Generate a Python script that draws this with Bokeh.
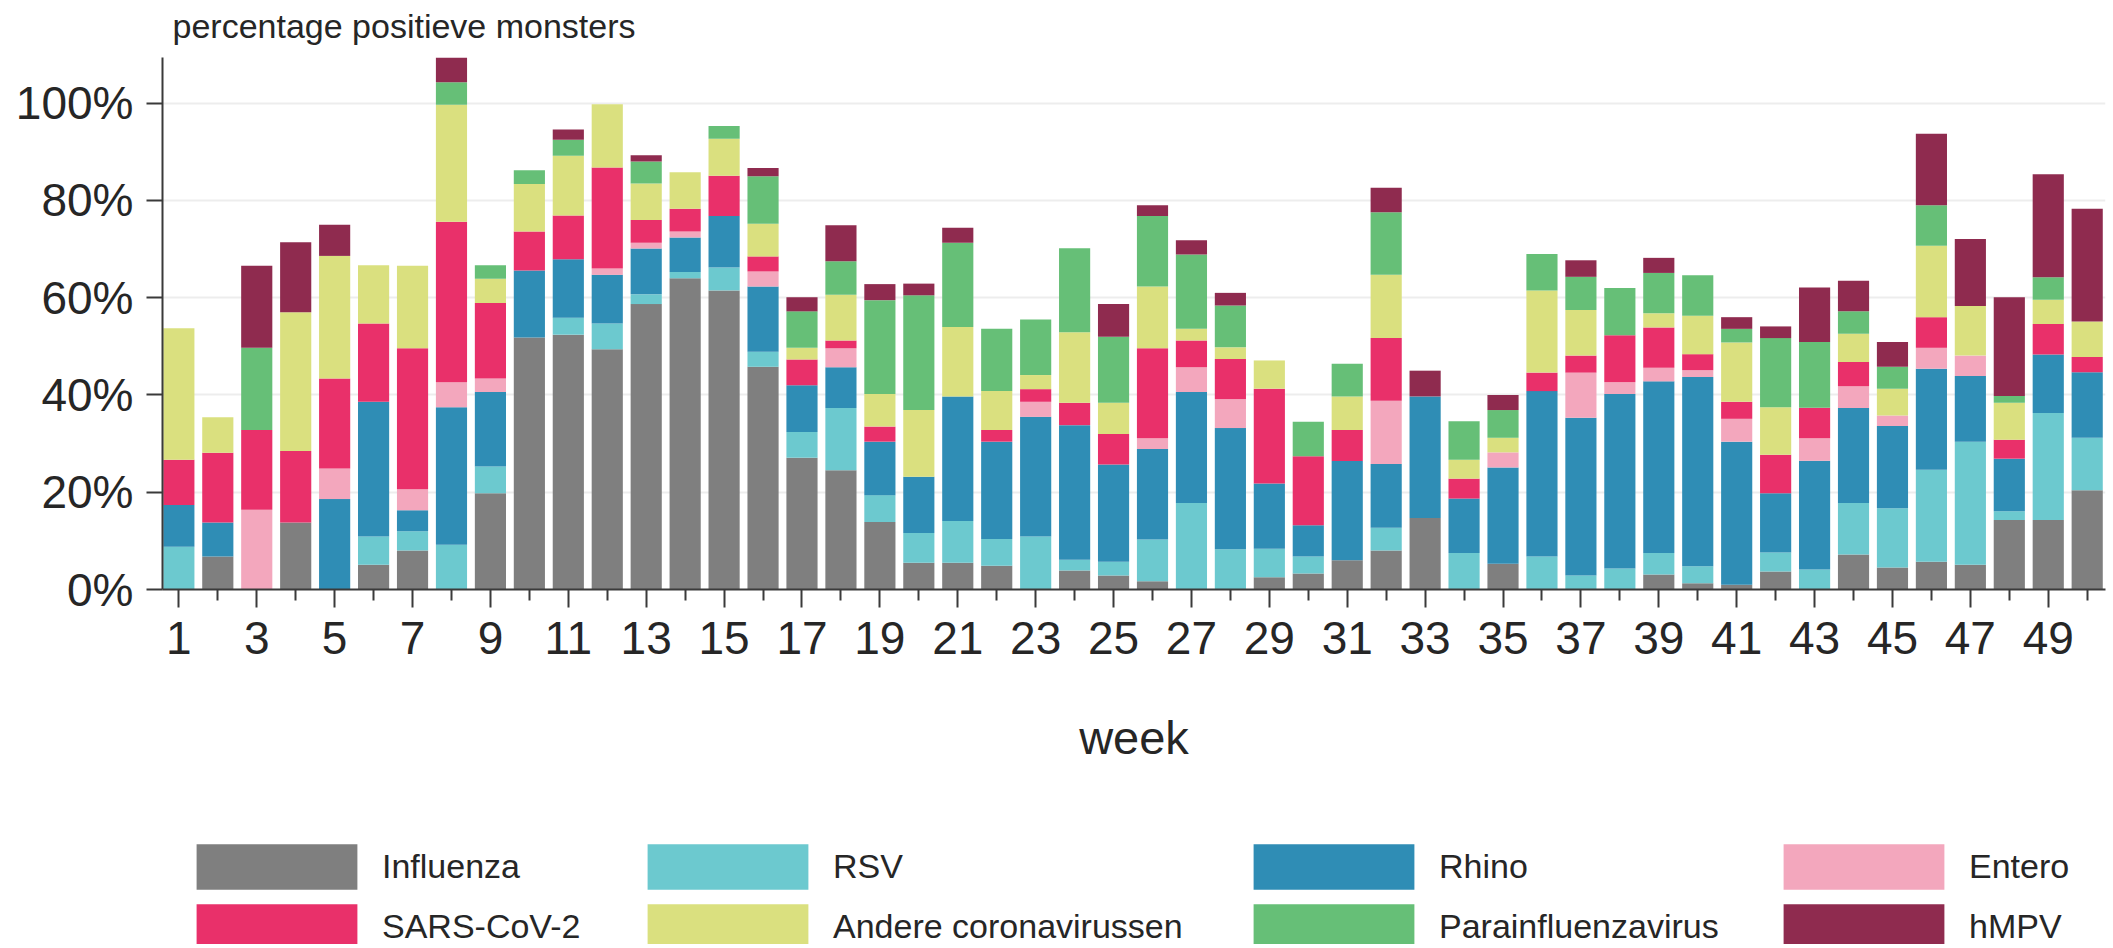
from bokeh.plotting import figure
from bokeh.models import (ColumnDataSource, Range1d, FixedTicker, PrintfTickFormatter,
                          Legend, LegendItem, Label)
from bokeh.layouts import column
from bokeh.embed import file_html
from bokeh.resources import INLINE

# ---------------- data ----------------
weeks = list(range(1, 51))
week_tick_labels = [str(w) for w in range(1, 50, 2)]

influenza = [0, 6.8, 0, 13.8, 0, 5.1, 8.0, 0, 19.8, 51.8,
             52.4, 49.4, 58.7, 64.0, 61.5, 45.8, 27.1, 24.5, 13.9, 5.5,
             5.5, 4.9, 0, 3.9, 2.9, 1.7, 0, 0, 2.5, 3.3,
             6.0, 8.0, 14.7, 0, 5.3, 0, 0, 0, 3.1, 1.3,
             1.0, 3.7, 0, 7.2, 4.5, 5.7, 5.1, 14.3, 14.3, 20.4]
rsv = [8.8, 0, 0, 0, 0, 5.8, 4.0, 9.2, 5.5, 0,
       3.5, 5.3, 2.0, 1.3, 4.7, 3.1, 5.3, 12.8, 5.5, 6.1,
       8.6, 5.5, 10.9, 2.2, 2.8, 8.6, 17.8, 8.3, 5.9, 3.5,
       0, 4.7, 0, 7.5, 0, 6.8, 2.9, 4.3, 4.4, 3.5,
       0, 3.9, 4.1, 10.6, 12.2, 18.9, 25.3, 1.8, 22.0, 10.8]
rhino = [8.6, 7.0, 0, 0, 18.6, 27.7, 4.3, 28.3, 15.3, 13.8,
         12.0, 10.0, 9.4, 7.1, 10.6, 13.4, 9.6, 8.4, 11.0, 11.6,
         25.6, 20.0, 24.6, 27.7, 20.0, 18.6, 22.8, 24.9, 13.4, 6.4,
         20.4, 13.1, 25.0, 11.2, 19.8, 34.0, 32.4, 35.9, 35.3, 38.9,
         29.4, 12.2, 22.4, 19.5, 16.9, 20.8, 13.5, 10.8, 12.0, 13.5]
entero = [0, 0, 16.4, 0, 6.3, 0, 4.3, 5.1, 2.8, 0,
          0, 1.3, 1.2, 1.2, 0, 3.1, 0, 3.9, 0, 0,
          0, 0, 3.1, 0, 0, 2.2, 5.1, 5.9, 0, 0,
          0, 13.0, 0, 0, 3.1, 0, 9.3, 2.4, 2.8, 1.4,
          4.7, 0, 4.6, 4.5, 2.2, 4.3, 4.2, 0, 0, 0]
sars_cov_2 = [9.3, 14.3, 16.4, 14.7, 18.5, 16.1, 29.0, 33.0, 15.5, 8.0,
              9.0, 20.8, 4.7, 4.7, 8.3, 3.1, 5.3, 1.6, 3.1, 0,
              0, 2.4, 2.6, 4.6, 6.3, 18.5, 5.5, 8.3, 19.5, 14.2,
              6.4, 12.9, 0, 4.1, 0, 3.8, 3.5, 9.7, 8.3, 3.3,
              3.5, 7.9, 6.3, 5.0, 0, 6.3, 0, 3.9, 6.3, 3.1]
andere_corona = [27.0, 7.3, 0, 28.5, 25.2, 12.0, 17.0, 24.1, 5.0, 9.8,
                 12.3, 13.0, 7.5, 7.5, 7.6, 6.7, 2.4, 9.4, 6.7, 13.7,
                 14.3, 8.0, 2.9, 14.5, 6.4, 12.7, 2.4, 2.4, 5.8, 0,
                 6.9, 13.0, 0, 3.9, 3.0, 16.9, 9.4, 0, 2.9, 7.9,
                 12.2, 9.8, 0, 5.8, 5.5, 14.7, 10.2, 7.6, 5.0, 7.3]
parainfluenza = [0, 0, 16.9, 0, 0, 0, 0, 4.6, 2.8, 2.8,
                 3.3, 0, 4.5, 0, 2.6, 9.8, 7.5, 6.9, 19.3, 23.6,
                 17.3, 12.8, 11.4, 17.3, 13.6, 14.5, 15.3, 8.6, 0, 7.1,
                 6.7, 12.9, 0, 7.9, 5.7, 7.5, 6.8, 9.7, 8.3, 8.3,
                 2.8, 14.2, 13.5, 4.6, 4.5, 8.3, 0, 1.4, 4.6, 0]
hmpv = [0, 0, 16.9, 14.4, 6.4, 0, 0, 6.0, 0, 0,
        2.1, 0, 1.3, 0, 0, 1.7, 2.9, 7.4, 3.3, 2.4,
        3.1, 0, 0, 0, 6.7, 2.2, 2.9, 2.6, 0, 0,
        0, 5.0, 5.3, 0, 3.1, 0, 3.4, 0, 3.1, 0,
        2.4, 2.4, 11.2, 6.3, 5.1, 14.7, 13.8, 20.3, 21.2, 23.2]

series_keys = ["influenza", "rsv", "rhino", "entero", "sars", "andere", "para", "hmpv"]
series_labels = ["Influenza", "RSV", "Rhino", "Entero", "SARS-CoV-2",
                 "Andere coronavirussen", "Parainfluenzavirus", "hMPV"]
series_colors = ["#7f7f7f", "#6cc9cf", "#2f8db5", "#f3a7bd", "#e9306a",
                 "#dae07f", "#66bf77", "#8f2b4f"]
y_ticks = [0, 20, 40, 60, 80, 100]
title_text = "percentage positieve monsters"

source = ColumnDataSource(dict(
    week=weeks, influenza=influenza, rsv=rsv, rhino=rhino, entero=entero,
    sars=sars_cov_2, andere=andere_corona, para=parainfluenza, hmpv=hmpv))

FONT = "Liberation Sans"
TXT = "#262626"
AX = "#3a3a3a"
W = 2108


def strip(height):
    f = figure(width=W, height=height, output_backend="svg", toolbar_location=None,
               x_range=Range1d(0, 1), y_range=Range1d(0, 1),
               x_axis_type=None, y_axis_type=None, min_border=0)
    f.outline_line_color = None
    f.grid.visible = False
    return f


# ---------------- title strip ----------------
title_fig = strip(57)
title_fig.add_layout(Label(x=10, y=32, x_units="screen", y_units="screen",
                           text=title_text, text_font=FONT, text_font_size="34px",
                           text_color=TXT, text_baseline="alphabetic",
                           text_align="left"))

# ---------------- main chart ----------------
p = figure(width=W, height=743, output_backend="svg", toolbar_location=None,
           x_range=Range1d(0.58, 50.47), y_range=Range1d(0, 109.4),
           min_border_left=162, min_border_right=3, min_border_top=0,
           min_border_bottom=211)
p.outline_line_color = None
p.background_fill_color = "white"

renderers = p.vbar_stack(series_keys, x="week", width=0.8, source=source,
                         color=series_colors, line_color=None)

p.xaxis.ticker = FixedTicker(ticks=[int(t) for t in week_tick_labels],
                             minor_ticks=list(range(2, 51, 2)))
p.xaxis.axis_label = "week"
p.xaxis.axis_label_text_font = FONT
p.xaxis.axis_label_text_font_size = "47px"
p.xaxis.axis_label_text_font_style = "normal"
p.xaxis.axis_label_text_color = TXT
p.xaxis.axis_label_standoff = 54
p.xaxis.major_label_text_font = FONT
p.xaxis.major_label_text_font_size = "46px"
p.xaxis.major_label_text_color = TXT
p.xaxis.major_label_standoff = 14
p.xaxis.major_tick_out = 18
p.xaxis.major_tick_in = 0
p.xaxis.minor_tick_out = 11
p.xaxis.minor_tick_in = 0
p.xaxis.major_tick_line_width = 2
p.xaxis.minor_tick_line_width = 2
p.xaxis.major_tick_line_color = AX
p.xaxis.minor_tick_line_color = AX
p.xaxis.axis_line_color = AX
p.xaxis.axis_line_width = 2

p.yaxis.ticker = FixedTicker(ticks=y_ticks)
p.yaxis.formatter = PrintfTickFormatter(format="%d%%")
p.yaxis.major_label_text_font = FONT
p.yaxis.major_label_text_font_size = "46px"
p.yaxis.major_label_text_color = TXT
p.yaxis.major_label_standoff = 13
p.yaxis.major_tick_out = 16
p.yaxis.major_tick_in = 0
p.yaxis.minor_tick_line_color = None
p.yaxis.major_tick_line_width = 2
p.yaxis.major_tick_line_color = AX
p.yaxis.axis_line_color = AX
p.yaxis.axis_line_width = 2

p.xgrid.visible = False
p.ygrid.ticker = FixedTicker(ticks=y_ticks)
p.ygrid.grid_line_color = "#ededed"
p.ygrid.grid_line_width = 2

# ---------------- legend strip ----------------
leg_fig = strip(144)
# zero-height sample per series: it only carries the colour for the legend swatch
swatches = [leg_fig.vbar(x=[0.5], top=[0], width=0.1, fill_color=c, line_color=None)
            for c in series_colors]

columns = [[0, 4], [1, 5], [2, 6], [3, 7]]
col_x = [14, 465, 1071, 1601]
for cx, idxs in zip(col_x, columns):
    items = [LegendItem(label=series_labels[i], renderers=[swatches[i]]) for i in idxs]
    leg = Legend(items=items, location=(cx, -11), orientation="vertical",
                 glyph_width=201, glyph_height=57, label_standoff=5, spacing=3,
                 padding=0, margin=0, border_line_color=None,
                 background_fill_alpha=0, label_text_font=FONT,
                 label_text_font_size="34px", label_text_color=TXT)
    leg_fig.add_layout(leg)

layout = column(title_fig, p, leg_fig, spacing=0)
open("out.html", "w").write(file_html(layout, INLINE))
